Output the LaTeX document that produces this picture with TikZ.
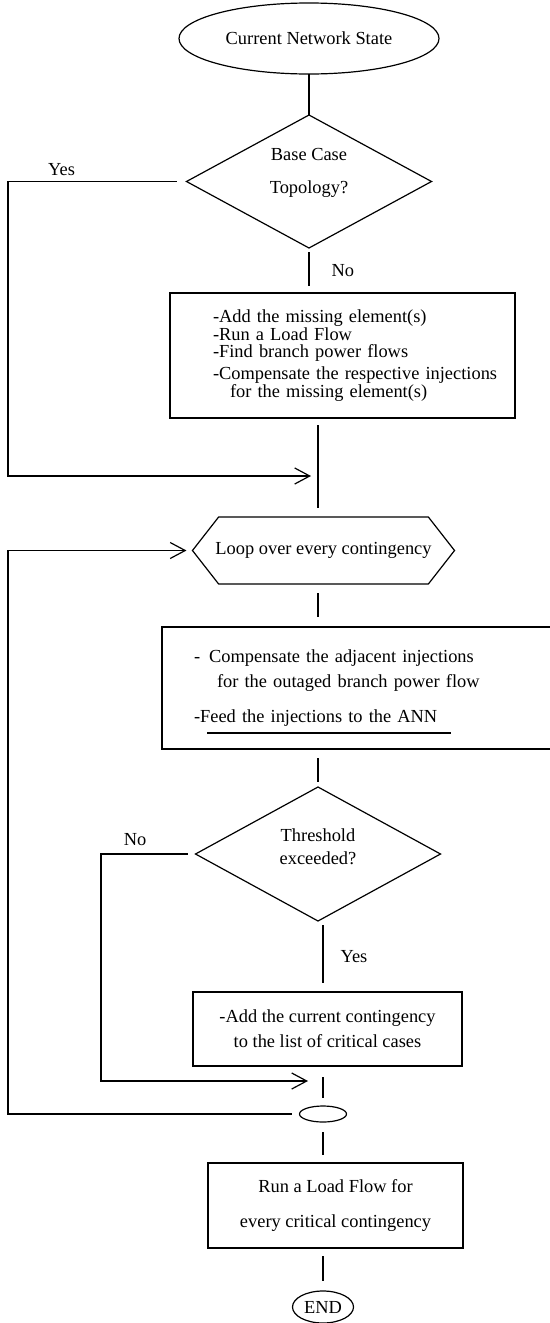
\documentclass[tikz,border=0pt]{standalone}
\usepackage{fontspec}
\setmainfont{Liberation Serif}
\usepackage{tikz}
\usetikzlibrary{shapes.geometric,shapes.symbols,arrows.meta,positioning,calc}
\tikzset{
  term/.style ={ellipse, draw, line width=0.6pt, inner sep=0pt, outer sep=0pt, align=center},
  dec/.style  ={diamond, draw, line width=0.6pt, inner sep=0pt, outer sep=0pt, align=center},
  proc/.style ={rectangle, draw, line width=0.6pt, inner sep=0pt, outer sep=0pt, align=center},
  loopb/.style={signal, signal to=east and west, signal pointer angle=104,
                draw, line width=0.6pt, inner xsep=-1.6pt, inner ysep=0pt, outer sep=0pt},
  fl/.style   ={draw, line width=0.6pt},
  ar/.style   ={fl, -{Straight Barb[length=7.5pt,width=8pt]}},
  lbl/.style  ={inner sep=1pt},
}

\begin{document}
\begin{tikzpicture}[font=\fontsize{9.2pt}{11pt}\selectfont]
  \useasboundingbox (0,0) rectangle (275pt,-661.5pt);
  \clip (0,0) rectangle (275pt,-661.5pt);
  \node[term, minimum width=130pt, minimum height=35.5pt] (start) at (154.5pt,-19.25pt) {Current Network State};
  \node[dec, minimum width=122.5pt, minimum height=66.5pt, below=20.5pt of start,
        label={[align=center, yshift=4.5pt]center:Base Case\\[5.5pt]Topology?}] (d1) {};
  \node[proc, minimum width=172.5pt, minimum height=62.5pt, text width=172.5pt, align=left,
        font=\fontsize{9.2pt}{8.8pt}\selectfont, below=22.5pt of d1, xshift=16.75pt] (b1)
       {\hspace*{21.5pt}-Add the missing element(s)\\\hspace*{21.5pt}-Run a Load Flow\\
        \hspace*{21.5pt}-Find branch power flows\\[2.2pt]
        \hspace*{21.5pt}-Compensate the respective injections\\\hspace*{30pt}for the missing element(s)};
  \node[loopb, minimum height=33.5pt, below=49.5pt of b1, xshift=-9.5pt] (hex) {Loop over every contingency};
  \node[proc, minimum width=199pt, minimum height=61pt, text width=199pt, align=left,
        font=\fontsize{9.2pt}{12.5pt}\selectfont, below=21.5pt of hex, xshift=18.75pt] (b2)
       {\hspace*{16pt}-\hspace{4.5pt}Compensate the adjacent injections\\\hspace*{27.5pt}for the outaged branch power flow\\[5pt]
        \hspace*{16pt}-Feed the injections to the ANN};
  \node[dec, minimum width=122.5pt, minimum height=67pt, below=19pt of b2, xshift=-21.5pt,
        label={[align=center, yshift=3.5pt]center:Threshold\\[0.7pt]exceeded?}] (d2) {};
  \node[proc, minimum width=134.5pt, minimum height=37pt, below=35.5pt of d2, xshift=4.75pt] (b3)
       {-Add the current contingency\\[1.5pt]to the list of critical cases};
  \node[term, minimum width=23.5pt, minimum height=8pt, below=20pt of b3, xshift=-2.25pt] (sm) {};
  \node[proc, minimum width=127.5pt, minimum height=42.5pt, below=20.5pt of sm, xshift=6.25pt] (b4)
       {Run a Load Flow for\\[6.5pt]every critical contingency};
  \node[term, minimum width=30.5pt, minimum height=16pt, below=21.5pt of b4, xshift=-6.25pt] (stop) {END};
  % rails and merge points
  \coordinate (rail) at (4pt,0);
  \coordinate (rail2) at (50.5pt,0);
  \coordinate (m1) at ([yshift=-29pt]b1.south -| d2.north);
  \coordinate (m2) at ([yshift=-7.5pt]b3.south -| sm.north);
  \draw[fl] ([xshift=22.5pt,yshift=8pt]b2.south west) -- ++(122pt,0);
  % trunk
  \draw[fl] (start) -- (d1);
  \draw[fl, shorten <=2pt, shorten >=3.5pt] (d1.south) -- node[lbl, right=10pt]{No} (d1.south |- b1.north);
  \draw[fl, shorten <=3.5pt, shorten >=4.5pt] (d2.north |- b1.south) -- (d2.north |- hex.north);
  \draw[fl, shorten <=4.5pt, shorten >=5pt] (d2.north |- hex.south) -- (d2.north |- b2.north);
  \draw[fl, shorten <=4.5pt, shorten >=2.5pt] (d2.north |- b2.south) -- (d2.north);
  \draw[fl, shorten <=2pt, shorten >=4.5pt] (sm.north |- d2.south) -- node[lbl, right=7.5pt]{Yes} (sm.north |- b3.north);
  \draw[fl, shorten <=5.5pt, shorten >=4pt] (sm.north |- b3.south) -- (sm.north);
  \draw[fl, shorten <=5pt, shorten >=4pt] (sm.south) -- (sm.south |- b4.north);
  \draw[fl, shorten <=4pt, shorten >=5pt] (stop.north |- b4.south) -- (stop.north);
  % branches
  \draw[ar, shorten <=5pt, shorten >=3.5pt] (d1.west) -- node[lbl, pos=0.7, above=1.5pt]{Yes} (d1.west -| rail) |- (m1);
  \draw[ar, shorten <=4pt, shorten >=7.5pt] (d2.west) -- node[lbl, pos=0.64, above=3pt]{No} (d2.west -| rail2) |- (m2);
  \draw[ar, shorten <=4pt, shorten >=3pt] (sm.west) -| (rail |- hex.west) -- (hex.west);
\end{tikzpicture}
\end{document}
